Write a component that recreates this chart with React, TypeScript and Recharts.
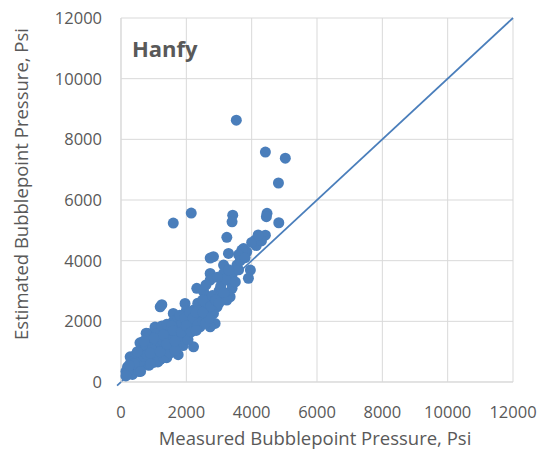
import { ScatterChart, Scatter, XAxis, YAxis, CartesianGrid, ReferenceLine, Label } from "recharts";

// measured vs. estimated bubblepoint pressure (psi), one entry per sample
const measured = [
  3530, 4420, 5030, 4820, 2150, 1600, 3420, 3400, 4470, 4450, 4830,
  3240, 2830, 2730, 3290, 3750, 3850, 4110, 4260, 4420, 4140, 3960, 3900, 3550, 3400, 3400,
  3140, 3140, 2730, 2730, 3340, 3400, 3340, 2320, 2530, 2630, 3040, 2940, 1960, 2830, 2880,
  2730, 2420, 2220, 2420, 2120, 3240, 3240, 3700, 4000, 4300, 3600, 2600, 3000, 2500, 2350,
  2600, 2800, 3100, 3600, 4200,
  1200, 1250, 1600, 2220,
  150, 200, 250, 280, 300, 350, 400, 400, 450, 500, 500, 550, 580, 600, 600, 650, 700, 700,
  750, 800, 800, 830, 850, 900, 900, 950, 950, 1000, 1000, 1050, 1100, 1100, 1150, 1200, 1200,
  1250, 1290, 1300, 1300, 1350, 1400, 1400, 1450, 1500, 1500, 1550, 1600, 1650, 1700, 1700,
  1750, 1800, 1800, 1850, 1900, 1900, 1950, 2000, 2050, 2100, 2150, 2200, 2250, 2300, 2350,
  2400, 2450, 2500, 2550, 650, 750, 350, 450, 1000, 1150, 1600, 1900, 550, 850, 1100, 1400,
  1750, 2050, 300, 200, 950, 1250, 1500, 1350, 1700, 2000, 1850, 600, 700, 800, 900,
  1130, 1300, 1500, 1650, 770, 1040, 1100, 1250, 1400, 1550, 1800, 1950, 2100, 2200, 2300,
  2350, 2500, 2600, 1600, 1300, 1000, 700, 500, 400, 250, 150, 600, 900, 1200, 1400,
  1650, 1850, 2000, 2150, 2300, 2700, 2500, 2750, 2900, 3000,
  3050, 3200, 3300, 3500, 3650, 3800, 2950, 3150,
];
const estimated = [
  8630, 7580, 7380, 6560, 5570, 5240, 5500, 5280, 5560, 5450, 5250,
  4770, 4130, 4085, 4240, 4400, 4290, 4680, 4790, 4840, 4500, 3690, 3420, 3855, 3525, 3250,
  3855, 3580, 3580, 3360, 3360, 3090, 2810, 3090, 2980, 2700, 2700, 2480, 2590, 2260, 1930,
  1820, 2150, 2370, 1820, 1880, 2920, 2700, 4350, 4600, 4650, 3700, 3200, 3000, 2500, 2600,
  2300, 2850, 3300, 4200, 4850,
  2480, 2550, 2260, 1160,
  350, 500, 300, 830, 450, 600, 350, 800, 500, 700, 400, 600, 1290, 900, 500, 750, 1100, 600,
  850, 1000, 650, 1600, 1300, 800, 1100, 1400, 700, 1000, 1250, 850, 1150, 1500, 950, 1300, 750,
  1100, 1650, 1400, 900, 1200, 1550, 1050, 1300, 1700, 1100, 1450, 1250, 1600, 1900, 1400,
  900, 1700, 1300, 1550, 2050, 1450, 1800, 1600, 2150, 1750, 2000, 1800, 2250, 2000, 2350,
  2050, 1950, 2700, 2200, 1050, 1200, 250, 900, 650, 1700, 2000, 1200, 350, 550, 700, 800,
  2100, 1400, 650, 350, 1050, 1400, 1350, 1700, 1150, 2350, 1900, 700, 850, 900, 950,
  660, 800, 950, 1050, 1610, 1810, 1600, 1850, 1900, 1850, 2200, 2100, 2300, 2100, 2300,
  1900, 2000, 1950, 1700, 1550, 1450, 1350, 1000, 600, 550, 200, 350, 600, 1000, 1250,
  1350, 1650, 1850, 1650, 1700, 2100, 2300, 2500, 2700, 2600,
  3150, 3400, 3700, 3300, 4000, 4100, 3450, 2950,
];
const axisTicks = [0, 2000, 4000, 6000, 8000, 10000, 12000];

const points = measured.map((m, i) => ({ measured: m, estimated: estimated[i] }));

const FONT = "'Open Sans', 'Liberation Sans', sans-serif";
const TEXT = "#595959";
const BLUE = "#4A7EBB";

const Dot = (props: any) => <circle cx={props.cx} cy={props.cy} r={5.5} fill={BLUE} />;

export default function App() {
  return (
    <div style={{ position: "absolute", left: 0, top: 0, width: 544, height: 450, background: "#fff", fontFamily: FONT }}>
      <ScatterChart width={544} height={450} margin={{ top: 18, right: 31, bottom: 0, left: 0 }}>
        <CartesianGrid stroke="#D9D9D9" />
        <XAxis
          type="number" dataKey="measured" domain={[0, 12000]} ticks={axisTicks}
          height={68} tickLine={false} axisLine={{ stroke: "#D9D9D9" }}
          tickSize={6} tickMargin={18}
          tick={{ fontSize: 16.5, fill: TEXT, fontFamily: FONT }}
        >
          <Label
            content={({ viewBox }: any) => (
              <text x={viewBox.x + viewBox.width / 2 - 2} y={445} textAnchor="middle" fontSize={18.5} fill={TEXT} fontFamily={FONT}>
                Measured Bubblepoint Pressure, Psi
              </text>
            )}
          />
        </XAxis>
        <YAxis
          type="number" dataKey="estimated" domain={[0, 12000]} ticks={axisTicks}
          width={121} tickLine={false} axisLine={{ stroke: "#D9D9D9" }}
          tickSize={6} tickMargin={13}
          tick={{ fontSize: 16.5, fill: TEXT, fontFamily: FONT }}
        >
          <Label
            content={({ viewBox }: any) => {
              const cy = viewBox.y + viewBox.height / 2 - 16;
              return (
                <text x={28} y={cy} transform={`rotate(-90, 28, ${cy})`} textAnchor="middle" fontSize={18.5} fill={TEXT} fontFamily={FONT}>
                  Estimated Bubblepoint Pressure, Psi
                </text>
              );
            }}
          />
        </YAxis>
        <Scatter data={points} shape={<Dot />} isAnimationActive={false} />
        <ReferenceLine
          segment={[{ x: -120, y: -120 }, { x: 12000, y: 12000 }]}
          ifOverflow="visible"
          stroke={BLUE} strokeWidth={1.75}
        />
      </ScatterChart>
      <div style={{ position: "absolute", left: 132, top: 33, fontSize: 22, fontWeight: 700, color: TEXT, fontFamily: FONT }}>
        Hanfy
      </div>
    </div>
  );
}
